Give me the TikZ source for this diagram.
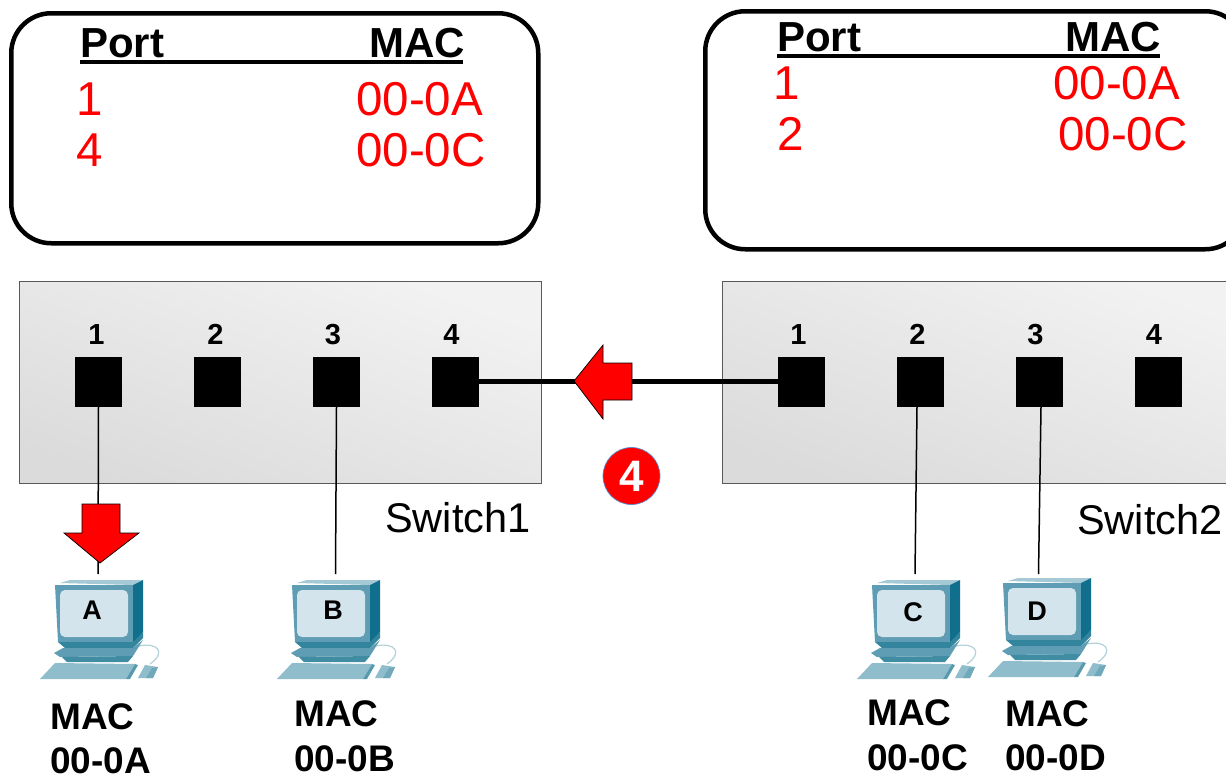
\documentclass[tikz,border=0pt]{standalone}
\usepackage{fontspec}
\setmainfont{Liberation Sans}
\usetikzlibrary{calc}
\definecolor{tealA}{HTML}{5E9DB3}
\definecolor{tealB}{HTML}{0F6F8C}
\definecolor{tealC}{HTML}{8FBDCC}
\definecolor{screenc}{HTML}{D3E4EC}
\tikzset{
  x=1pt,y=-1pt,
  tablebox/.style={draw=black,line width=4.5pt,rounded corners=40pt,fill=white},
  rulel/.style={draw=black,line width=3.5pt},
  head/.style={anchor=base west,inner sep=0pt,font=\fontsize{42}{42}\selectfont\bfseries},
  val/.style={anchor=base west,inner sep=0pt,text=red,font=\fontsize{47.5}{48}\selectfont},
  swbox/.style={draw=black!65,line width=1pt,top color=black!5,bottom color=black!14,shading angle=-20},
  port/.style={fill=black,draw=none,minimum width=47pt,minimum height=50pt,inner sep=0pt},
  portnum/.style={inner sep=0pt,anchor=base,font=\fontsize{29}{29}\selectfont\bfseries},
  swname/.style={anchor=base west,inner sep=0pt,font=\fontsize{41.5}{41}\selectfont},
  maclabel/.style={anchor=base west,inner sep=0pt,font=\fontsize{37}{37}\selectfont\bfseries},
  thinlink/.style={draw=black,line width=1.5pt},
  thicklink/.style={draw=black,line width=5.5pt},
  redarrow/.style={fill=red,draw=black,line width=.7pt,line join=miter},
  badge/.style={circle,fill=red,draw=cyan!50!blue!70,line width=.7pt,minimum size=57pt,inner sep=0pt,text=white,font=\fontsize{44}{44}\selectfont\bfseries},
  pclabel/.style={inner sep=0pt,font=\fontsize{27}{27}\selectfont\bfseries},
  pc/.pic={
    \draw[tealC!70,line width=1.2pt] (84,66) .. controls (102,62) and (112,72) .. (95,84);
    \fill[tealC!80] (5,3) -- (15,0) -- (88,0) -- (78,5) -- cycle;
    \fill[tealA] (0,5) -- (78,5) -- (78,62) -- (3,62) -- cycle;
    \fill[tealB] (78,5) -- (88,0) -- (88,52) -- (78,64) -- cycle;
    \fill[screenc,rounded corners=5pt] (5,10) rectangle (73,57);
    \fill[tealB!85] (3,62) -- (78,62) -- (88,52) -- (88,58) -- (78,68) -- (10,68) -- cycle;
    \fill[tealA] (-1,73) -- (8,68) -- (78,68) -- (88,60) -- (78,76) -- (5,77) -- cycle;
    \fill[tealB!80] (7,77) -- (78,76) -- (73,82) -- (12,82) -- cycle;
    \fill[tealC] (0,83) -- (80,84) -- (71,99) -- (-15,99) -- cycle;
    \fill[tealB!70] (80,84) -- (83,85) -- (75,99) -- (71,99) -- cycle;
    \fill[tealC] (90,85) -- (103,87) -- (98,98) -- (83,98) -- cycle;
    \fill[tealB!60] (97,88) -- (103,87) -- (98,98) -- (91,98) -- cycle;
  }
}
\begin{document}
\begin{tikzpicture}
\useasboundingbox (0,0) rectangle (1226,774);
\clip (0,0) rectangle (1226,774);
\fill[white] (0,0) rectangle (1226,774);
% tables
\node[tablebox,anchor=north west,minimum width=527pt,minimum height=230pt,inner sep=0pt] (tblL) at (9,11) {};
\node[tablebox,anchor=north west,minimum width=540pt,minimum height=238pt,inner sep=0pt] (tblR) at (703,9) {};
\node[head] (tlp) at (80,57) {Port};
\node[head] (tlm) at (369,57) {MAC};
\coordinate (rla) at (80,62); \coordinate (rlb) at (463,62);
\draw[rulel] (rla) -- (rlb);
\node[val] (tl1) at (76,115) {1};
\node[val] (tla) at (356,115) {00-0A};
\node[val] (tl4) at (76,166) {4};
\node[val] (tlc) at (356,166) {00-0C};
\node[head] (trp) at (777,51) {Port};
\node[head] (trm) at (1065,51) {MAC};
\coordinate (rra) at (777,56); \coordinate (rrb) at (1160,56);
\draw[rulel] (rra) -- (rrb);
\node[val] (tr1) at (773,99) {1};
\node[val] (tra) at (1053,99) {00-0A};
\node[val] (tr2) at (777,150) {2};
\node[val] (trc) at (1058,150) {00-0C};
% switches
\node[swbox,anchor=north west,minimum width=522pt,minimum height=202.5pt,inner sep=0pt] (sw1) at (18.5,280.5) {};
\node[swbox,anchor=north west,minimum width=540pt,minimum height=202.5pt,inner sep=0pt] (sw2) at (721.5,280.5) {};
\node[port] (a1) at (98.5,382) {};
\node[port] (a2) at (217.5,382) {};
\node[port] (a3) at (336.5,382) {};
\node[port] (a4) at (455.5,382) {};
\node[port] (b1) at (801.5,382) {};
\node[port] (b2) at (920.5,382) {};
\node[port] (b3) at (1039.5,382) {};
\node[port] (b4) at (1158.5,382) {};
\node[portnum] (na1) at (96.5,344) {1};
\node[portnum] (na2) at (215.5,344) {2};
\node[portnum] (na3) at (333,344) {3};
\node[portnum] (na4) at (451.5,344) {4};
\node[portnum] (nb1) at (798.5,344) {1};
\node[portnum] (nb2) at (917.5,344) {2};
\node[portnum] (nb3) at (1035.5,344) {3};
\node[portnum] (nb4) at (1154,344) {4};
\node[swname] (s1) at (385,532) {Switch1};
\node[swname] (s2) at (1077,534) {Switch2};
% computers
\pic at (55,580) {pc};
\pic at (292,580) {pc};
\pic at (872,580) {pc};
\pic at (1003,578) {pc};
\node[pclabel] (pa) at (92,610) {A};
\node[pclabel] (pb) at (333,610) {B};
\node[pclabel] (pcc) at (913,612) {C};
\node[pclabel] (pd) at (1037,611) {D};
\coordinate (ca) at (98,574);
\coordinate (cb) at (335.5,574);
\coordinate (cc) at (915,574);
\coordinate (cd) at (1038.5,574);
% links
\draw[thinlink] (a1.south) -- (ca);
\draw[thinlink] (a3.south) -- (cb);
\draw[thinlink] ($(b2.south)+(-3.5,0)$) -- (cc);
\draw[thinlink] ($(b3.south)+(1.5,0)$) -- (cd);
\draw[thicklink] (a4.east |- 0,381.5) -- (b1.west |- 0,381.5);
% arrows
\draw[redarrow] (82,504) -- (120,504) -- (120,533) -- (139,533) -- (100,563) -- (64,533) -- (82,533) -- cycle;
\draw[redarrow] (574,381) -- (603,345) -- (603,363) -- (632,363) -- (632,400) -- (603,400) -- (603,419) -- cycle;
\node[badge] (bd) at (631.5,476) {4};
% MAC labels
\node[maclabel] (ma) at (50,729) {MAC};
\node[maclabel] (ma2) at (50,773) {00-0A};
\node[maclabel] (mb) at (294,726) {MAC};
\node[maclabel] (mb2) at (294,771) {00-0B};
\node[maclabel] (mc) at (867,725) {MAC};
\node[maclabel] (mc2) at (867,770) {00-0C};
\node[maclabel] (md) at (1005,726) {MAC};
\node[maclabel] (md2) at (1005,770) {00-0D};
\end{tikzpicture}
\end{document}
